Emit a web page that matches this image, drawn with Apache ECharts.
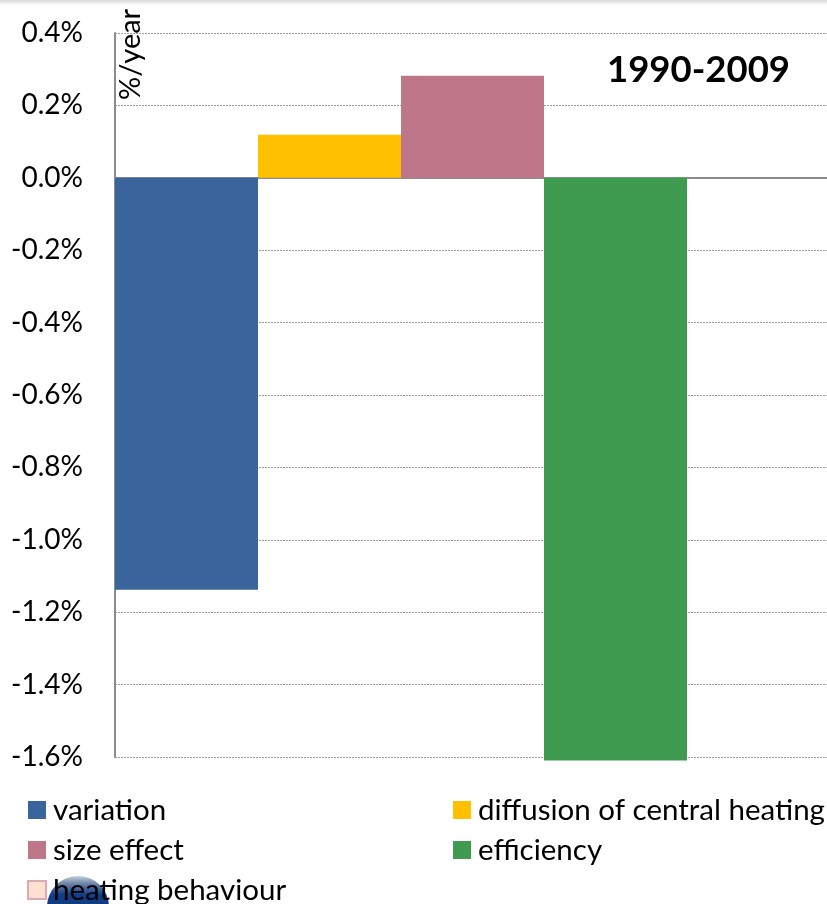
<!DOCTYPE html>
<html>
<head>
<meta charset="utf-8">
<style>
  html, body { margin: 0; padding: 0; background: #fff; }
  #chart { width: 827px; height: 904px; }
</style>
<script src="https://cdn.jsdelivr.net/npm/echarts@6/dist/echarts.min.js"></script>
</head>
<body>
<div id="chart"></div>
<script>
const categories = ['variation', 'diffusion of central heating', 'size effect', 'efficiency', 'heating behaviour']
const seriesValues = [-1.138, 0.119, 0.282, -1.61, 0]
const seriesColors = ['#3A649C', '#FFC000', '#BE7788', '#3F9B50', '#FDE0D2']
const yTicks = [0.4, 0.2, 0.0, -0.2, -0.4, -0.6, -0.8, -1.0, -1.2, -1.4, -1.6]

const FONT = 'Lato'
const chart = echarts.init(document.getElementById('chart'))

const series = categories.map((name, i) => ({
  name,
  type: 'bar',
  stack: 'all',
  clip: false,
  barWidth: '100%',
  itemStyle: { color: seriesColors[i] },
  // one bar per category, the others stay empty
  data: categories.map((c, j) => (i === j ? seriesValues[i] : null))
}))

const legendBase = {
  orient: 'vertical',
  itemWidth: 18,
  itemHeight: 18,
  itemGap: 10,
  icon: 'rect',
  height: 140,
  z: 5,
  textStyle: { fontFamily: FONT, fontSize: 29.5, color: '#000', padding: [0, 0, 0, 2] },
  selectedMode: false,
  padding: 0
}

chart.setOption({
  animation: false,
  backgroundColor: '#fff',
  grid: { left: 115, top: 33, width: 715, height: 724, outerBoundsMode: 'none' },
  xAxis: {
    type: 'category',
    data: categories,
    axisLabel: { show: false },
    axisTick: { show: false },
    axisLine: { onZero: true, lineStyle: { color: '#8C8C8C', width: 2 } }
  },
  yAxis: {
    type: 'value',
    min: -1.6,
    max: 0.4,
    interval: 0.2,
    axisLine: { show: true, lineStyle: { color: '#8C8C8C', width: 2 } },
    axisTick: { show: false },
    axisLabel: {
      customValues: yTicks,
      fontFamily: FONT,
      fontSize: 28,
      color: '#000',
      margin: 32,
      formatter: v => v.toFixed(1) + '%'
    },
    splitLine: { lineStyle: { color: '#A0A0A0', type: [2, 1], width: 1 } }
  },
  legend: [
    Object.assign({}, legendBase, {
      left: 27,
      top: 795,
      data: [
        categories[0],
        categories[2],
        { name: categories[4], itemStyle: { borderColor: '#DFA9B2', borderWidth: 2 } }
      ]
    }),
    Object.assign({}, legendBase, { left: 453, top: 795, data: [categories[1], categories[3]] })
  ],
  graphic: [
    {
      type: 'rect',
      z: 1,
      shape: { x: 0, y: 0, width: 827, height: 5 },
      style: {
        fill: new echarts.graphic.LinearGradient(0, 0, 0, 1, [
          { offset: 0, color: '#D8D8D8' },
          { offset: 1, color: '#FFFFFF' }
        ])
      }
    },
    {
      // globe picture that sits behind the last legend row
      type: 'circle',
      z: 1,
      shape: { cx: 78, cy: 907, r: 31 },
      style: {
        fill: new echarts.graphic.LinearGradient(0, 0, 0, 1, [
          { offset: 0, color: '#C9D0DA' },
          { offset: 0.12, color: '#6F86A8' },
          { offset: 0.3, color: '#123E86' },
          { offset: 1, color: '#0B2F70' }
        ])
      }
    },
    {
      type: 'text',
      left: 607,
      top: 52,
      style: { text: '1990-2009', fontFamily: FONT, fontWeight: 'bold', fontSize: 36.5, fill: '#000' }
    },
    {
      type: 'text',
      x: 145,
      y: 100,
      rotation: Math.PI / 2,
      style: { text: '%/year', fontFamily: FONT, fontSize: 29, fill: '#000', verticalAlign: 'bottom' }
    }
  ],
  series
})
</script>
</body>
</html>
